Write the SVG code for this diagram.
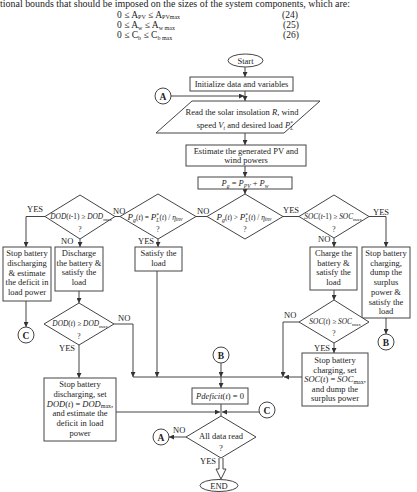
<svg xmlns="http://www.w3.org/2000/svg" width="417" height="492" viewBox="0 0 417 492">
<defs>
<style>
.b{fill:#fff;stroke:#444;stroke-width:1}
.c{fill:none;stroke:#444;stroke-width:1}
.t{font-family:"Liberation Serif","Times New Roman",serif;font-size:8.5px;fill:#222}
.f{font-family:"Liberation Serif","Times New Roman",serif;font-size:7.4px;fill:#222}
.l{font-family:"Liberation Serif","Times New Roman",serif;font-size:8.5px;fill:#222}
.cl{font-family:"Liberation Serif","Times New Roman",serif;font-size:9.5px;font-weight:bold;fill:#222}
.i{font-style:italic}
</style>
<marker id="ah" markerWidth="5" markerHeight="5" refX="5" refY="2.5" orient="auto" markerUnits="userSpaceOnUse"><path d="M0,0 L5,2.5 L0,5 z" fill="#333"/></marker>
</defs>
<rect width="417" height="492" fill="#fff"/>

<g id="header">
<text x="0" y="7" font-family="Liberation Serif, serif" font-size="10.5" fill="#222" textLength="350" lengthAdjust="spacingAndGlyphs">tional bounds that should be imposed on the sizes of the system components, which are:</text>
<text x="117" y="17.5" font-family="Liberation Serif, serif" font-size="9.5" fill="#222">0 ≤ A<tspan font-size="6" dy="1.5">PV</tspan><tspan dy="-1.5"> ≤ A</tspan><tspan font-size="6" dy="1.5">PVmax</tspan></text>
<text x="117" y="28" font-family="Liberation Serif, serif" font-size="9.5" fill="#222">0 ≤ A<tspan font-size="6" dy="1.5">w</tspan><tspan dy="-1.5"> ≤ A</tspan><tspan font-size="6" dy="1.5">w max</tspan></text>
<text x="117" y="38" font-family="Liberation Serif, serif" font-size="9.5" fill="#222">0 ≤ C<tspan font-size="6" dy="1.5">b</tspan><tspan dy="-1.5"> ≤ C</tspan><tspan font-size="6" dy="1.5">b max</tspan></text>
<text x="282" y="17.5" font-family="Liberation Serif, serif" font-size="9.5" fill="#222">(24)</text>
<text x="283" y="28" font-family="Liberation Serif, serif" font-size="9.5" fill="#222">(25)</text>
<text x="283" y="38" font-family="Liberation Serif, serif" font-size="9.5" fill="#222">(26)</text>
</g>

<g id="connectors">
<path class="c" d="M245,67 V77" marker-end="url(#ah)"/>
<path class="c" d="M245,91 V101" marker-end="url(#ah)"/>
<path class="c" d="M171,96 H244" marker-end="url(#ah)"/>
<path class="c" d="M245,133 V145" marker-end="url(#ah)"/>
<path class="c" d="M245,166 V177" marker-end="url(#ah)"/>
<path class="c" d="M245,189 V194" marker-end="url(#ah)"/>
<path class="c" d="M207,216.5 H196"/>
<path class="c" d="M283,216.5 H299"/>
<path class="c" d="M120,216.5 H115"/>
<path class="c" d="M45,216.5 H26 V247" marker-end="url(#ah)"/>
<path class="c" d="M80,239 V247" marker-end="url(#ah)"/>
<path class="c" d="M158,239 V247" marker-end="url(#ah)"/>
<path class="c" d="M334,238 V247" marker-end="url(#ah)"/>
<path class="c" d="M369,216.5 H386 V247" marker-end="url(#ah)"/>
<path class="c" d="M26,301 V327" marker-end="url(#ah)"/>
<path class="c" d="M79,291 V303" marker-end="url(#ah)"/>
<path class="c" d="M114,324 H133 V377" marker-end="url(#ah)"/>
<path class="c" d="M79,345 V378" marker-end="url(#ah)"/>
<path class="c" d="M157,271 V377" marker-end="url(#ah)"/>
<path class="c" d="M334,290 V300" marker-end="url(#ah)"/>
<path class="c" d="M386,318 V334" marker-end="url(#ah)"/>
<path class="c" d="M299,322 H283 V377" marker-end="url(#ah)"/>
<path class="c" d="M334,343 V353" marker-end="url(#ah)"/>
<path class="c" d="M302,377 H284" marker-end="url(#ah)"/>
<path class="c" d="M283,377 H133"/>
<path class="c" d="M221,363 V377" marker-end="url(#ah)"/>
<path class="c" d="M221,377 V388" marker-end="url(#ah)"/>
<path class="c" d="M221,404 V416"/>
<path class="c" d="M116,412 H220" marker-end="url(#ah)"/>
<path class="c" d="M259,412 H222" marker-end="url(#ah)"/>
<path class="c" d="M186,437 H169" marker-end="url(#ah)"/>
<path class="b" d="M219,458 V469 H216 L221,479 L226,469 H223 V458"/>
</g>

<g id="labels">
<text class="l" x="197" y="214">NO</text>
<text class="l" x="283" y="213">YES</text>
<text class="l" x="373" y="215">YES</text>
<text class="l" x="113" y="214">NO</text>
<text class="l" x="27" y="212">YES</text>
<text class="l" x="61" y="244">NO</text>
<text class="l" x="138" y="244">YES</text>
<text class="l" x="318" y="242">NO</text>
<text class="l" x="118" y="321">NO</text>
<text class="l" x="59" y="351">YES</text>
<text class="l" x="284" y="318">NO</text>
<text class="l" x="314" y="351">YES</text>
<text class="l" x="173" y="433">NO</text>
<text class="l" x="200" y="464">YES</text>
</g>

<g id="start">
<ellipse class="b" cx="245.5" cy="60.5" rx="17.5" ry="6.5"/>
<text class="t" x="245.5" y="63.5" text-anchor="middle">Start</text>
</g>

<g id="init">
<rect class="b" x="190" y="77" width="103" height="14"/>
<text class="t" x="241.5" y="87" text-anchor="middle">Initialize data and variables</text>
</g>

<g id="connA1">
<circle class="b" cx="163" cy="96" r="8"/>
<text class="cl" x="163" y="99.5" text-anchor="middle">A</text>
</g>

<g id="read">
<polygon class="b" points="192,101 320,101 284,133 156,133"/>
<text class="t" x="242" y="115" text-anchor="middle">Read the solar insolation <tspan class="i">R</tspan>, wind</text>
<text class="t" x="245" y="128" text-anchor="middle">speed <tspan class="i">V</tspan><tspan font-size="5.5" dy="1.5" class="i">t</tspan><tspan dy="-1.5"> and desired load </tspan><tspan class="i">P</tspan><tspan font-size="5.5" dy="-3">*</tspan><tspan font-size="5.5" dx="-2.8" dy="5" class="i">L</tspan></text>
</g>

<g id="estimate">
<rect class="b" x="186" y="145" width="120" height="21"/>
<text class="t" x="246" y="154" text-anchor="middle">Estimate the generated PV and</text>
<text class="t" x="246" y="163" text-anchor="middle">wind powers</text>
</g>

<g id="pg">
<rect class="b" x="198" y="177" width="94" height="12"/>
<text class="t" x="245" y="186" text-anchor="middle"><tspan class="i">P</tspan><tspan font-size="5.5" dy="1.5" class="i">g</tspan><tspan dy="-1.5"> = </tspan><tspan class="i">P</tspan><tspan font-size="5.5" dy="1.5" class="i">PV</tspan><tspan dy="-1.5"> + </tspan><tspan class="i">P</tspan><tspan font-size="5.5" dy="1.5" class="i">w</tspan></text>
</g>

<g id="d-main">
<polygon class="b" points="245,194 283,216.5 245,239 207,216.5"/>
<text class="f" x="244" y="219.5" text-anchor="middle" font-size="8"><tspan class="i" font-size="9">P</tspan><tspan font-size="6" dy="2" class="i">g</tspan><tspan dy="-2">(<tspan class="i">t</tspan>) &gt; </tspan><tspan class="i" font-size="9">P</tspan><tspan font-size="5.5" dy="-3">*</tspan><tspan font-size="5.5" dx="-2.7" dy="5" class="i">L</tspan><tspan dy="-2">(<tspan class="i">t</tspan>) / <tspan class="i">η</tspan></tspan><tspan font-size="5.5" dy="1.5" class="i">inv</tspan></text>
<text class="f" x="245" y="232" text-anchor="middle">?</text>
</g>

<g id="d-eq">
<polygon class="b" points="158,194 196,216.5 158,239 120,216.5"/>
<text class="f" x="155" y="219.5" text-anchor="middle" font-size="8"><tspan class="i" font-size="9">P</tspan><tspan font-size="6" dy="2" class="i">g</tspan><tspan dy="-2">(<tspan class="i">t</tspan>) = </tspan><tspan class="i" font-size="9">P</tspan><tspan font-size="5.5" dy="-3">*</tspan><tspan font-size="5.5" dx="-2.7" dy="5" class="i">L</tspan><tspan dy="-2">(<tspan class="i">t</tspan>) / <tspan class="i">η</tspan></tspan><tspan font-size="5.5" dy="1.5" class="i">inv</tspan></text>
<text class="f" x="158" y="232" text-anchor="middle">?</text>
</g>

<g id="d-dod1">
<polygon class="b" points="80,195 115,216.5 80,239 45,216.5"/>
<text class="f" x="81" y="219" text-anchor="middle"><tspan class="i">DOD</tspan>(<tspan class="i">t</tspan>-1) ≥ <tspan class="i">DOD</tspan><tspan font-size="5" dy="1.5">max</tspan></text>
<text class="f" x="80" y="232" text-anchor="middle">?</text>
</g>

<g id="d-soc1">
<polygon class="b" points="334,195 369,216.5 334,238 299,216.5"/>
<text class="f" x="333" y="219" text-anchor="middle"><tspan class="i">SOC</tspan>(<tspan class="i">t</tspan>-1) ≥ <tspan class="i">SOC</tspan><tspan font-size="5" dy="1.5">max</tspan></text>
<text class="f" x="334" y="232" text-anchor="middle">?</text>
</g>

<g id="b-stopdis">
<rect class="b" x="3" y="247" width="48" height="54"/>
<text class="t" x="27" y="256" text-anchor="middle">Stop battery</text>
<text class="t" x="27" y="266" text-anchor="middle">discharging</text>
<text class="t" x="27" y="275.5" text-anchor="middle">&amp; estimate</text>
<text class="t" x="27" y="285" text-anchor="middle">the deficit in</text>
<text class="t" x="27" y="295" text-anchor="middle">load power</text>
</g>

<g id="b-discharge">
<rect class="b" x="55" y="247" width="48" height="44"/>
<text class="t" x="79" y="256" text-anchor="middle">Discharge</text>
<text class="t" x="79" y="265.5" text-anchor="middle">the battery &amp;</text>
<text class="t" x="79" y="275" text-anchor="middle">satisfy the</text>
<text class="t" x="79" y="285" text-anchor="middle">load</text>
</g>

<g id="b-satisfy">
<rect class="b" x="135" y="247" width="47" height="24"/>
<text class="t" x="158.5" y="256" text-anchor="middle">Satisfy the</text>
<text class="t" x="158.5" y="266" text-anchor="middle">load</text>
</g>

<g id="b-charge">
<rect class="b" x="310" y="247" width="47" height="43"/>
<text class="t" x="333.5" y="256" text-anchor="middle">Charge the</text>
<text class="t" x="333.5" y="265.5" text-anchor="middle">battery &amp;</text>
<text class="t" x="333.5" y="275" text-anchor="middle">satisfy the</text>
<text class="t" x="333.5" y="285" text-anchor="middle">load</text>
</g>

<g id="b-stopch">
<rect class="b" x="362" y="247" width="48" height="71"/>
<text class="t" x="386" y="256" text-anchor="middle">Stop battery</text>
<text class="t" x="386" y="265.7" text-anchor="middle">charging,</text>
<text class="t" x="386" y="275.4" text-anchor="middle">dump the</text>
<text class="t" x="386" y="285" text-anchor="middle">surplus</text>
<text class="t" x="386" y="294.8" text-anchor="middle">power &amp;</text>
<text class="t" x="386" y="304.5" text-anchor="middle">satisfy the</text>
<text class="t" x="386" y="314" text-anchor="middle">load</text>
</g>

<g id="connC1">
<circle class="b" cx="26" cy="335" r="8"/>
<text class="cl" x="26" y="338.5" text-anchor="middle">C</text>
</g>

<g id="connB1">
<circle class="b" cx="386" cy="342" r="8"/>
<text class="cl" x="386" y="345.5" text-anchor="middle">B</text>
</g>

<g id="d-dod2">
<polygon class="b" points="79,303 114,324 79,345 44,324"/>
<text class="f" x="80" y="326" text-anchor="middle"><tspan class="i">DOD</tspan>(<tspan class="i">t</tspan>) ≥ <tspan class="i">DOD</tspan><tspan font-size="5" dy="1.5">max</tspan></text>
<text class="f" x="79" y="339" text-anchor="middle">?</text>
</g>

<g id="d-soc2">
<polygon class="b" points="334,300 369,322 334,343 299,322"/>
<text class="f" x="335" y="324" text-anchor="middle"><tspan class="i">SOC</tspan>(<tspan class="i">t</tspan>) ≥ <tspan class="i">SOC</tspan><tspan font-size="5" dy="1.5">max</tspan></text>
<text class="f" x="334" y="336" text-anchor="middle">?</text>
</g>

<g id="connB2">
<circle class="b" cx="221" cy="355" r="8"/>
<text class="cl" x="221" y="358.5" text-anchor="middle">B</text>
</g>

<g id="b-stopdis2">
<rect class="b" x="44" y="378" width="72" height="63"/>
<text class="t" x="80" y="387" text-anchor="middle">Stop battery</text>
<text class="t" x="80" y="397" text-anchor="middle">discharging, set</text>
<text class="t" x="80" y="406.5" text-anchor="middle"><tspan class="i">DOD</tspan>(<tspan class="i">t</tspan>) = <tspan class="i">DOD</tspan><tspan font-size="6" dy="1.5">max</tspan><tspan dy="-1.5">,</tspan></text>
<text class="t" x="80" y="416" text-anchor="middle">and estimate the</text>
<text class="t" x="80" y="426" text-anchor="middle">deficit in load</text>
<text class="t" x="80" y="435.5" text-anchor="middle">power</text>
</g>

<g id="b-stopch2">
<rect class="b" x="302" y="353" width="66" height="53"/>
<text class="t" x="335" y="363" text-anchor="middle">Stop battery</text>
<text class="t" x="335" y="372.5" text-anchor="middle">charging, set</text>
<text class="t" x="335" y="382" text-anchor="middle"><tspan class="i">SOC</tspan>(<tspan class="i">t</tspan>) = <tspan class="i">SOC</tspan><tspan font-size="6" dy="1.5">max</tspan><tspan dy="-1.5">,</tspan></text>
<text class="t" x="335" y="391.5" text-anchor="middle">and dump the</text>
<text class="t" x="335" y="401" text-anchor="middle">surplus power</text>
</g>

<g id="b-pdef">
<rect class="b" x="192" y="388" width="56" height="16"/>
<text class="t" x="220" y="399" text-anchor="middle"><tspan class="i">Pdeficit</tspan>(<tspan class="i">t</tspan>) = 0</text>
</g>

<g id="connC2">
<circle class="b" cx="267" cy="410" r="8"/>
<text class="cl" x="267" y="413.5" text-anchor="middle">C</text>
</g>

<g id="d-all">
<polygon class="b" points="221,416 256,437 221,458 186,437"/>
<text class="t" x="221" y="439" text-anchor="middle">All data read</text>
<text class="t" x="221" y="451" text-anchor="middle">?</text>
</g>

<g id="connA2">
<circle class="b" cx="161" cy="437" r="8"/>
<text class="cl" x="161" y="440.5" text-anchor="middle">A</text>
</g>

<g id="end">
<ellipse class="b" cx="219" cy="485.5" rx="19" ry="6"/>
<text class="t" x="219" y="488.5" text-anchor="middle">END</text>
</g>
</svg>
